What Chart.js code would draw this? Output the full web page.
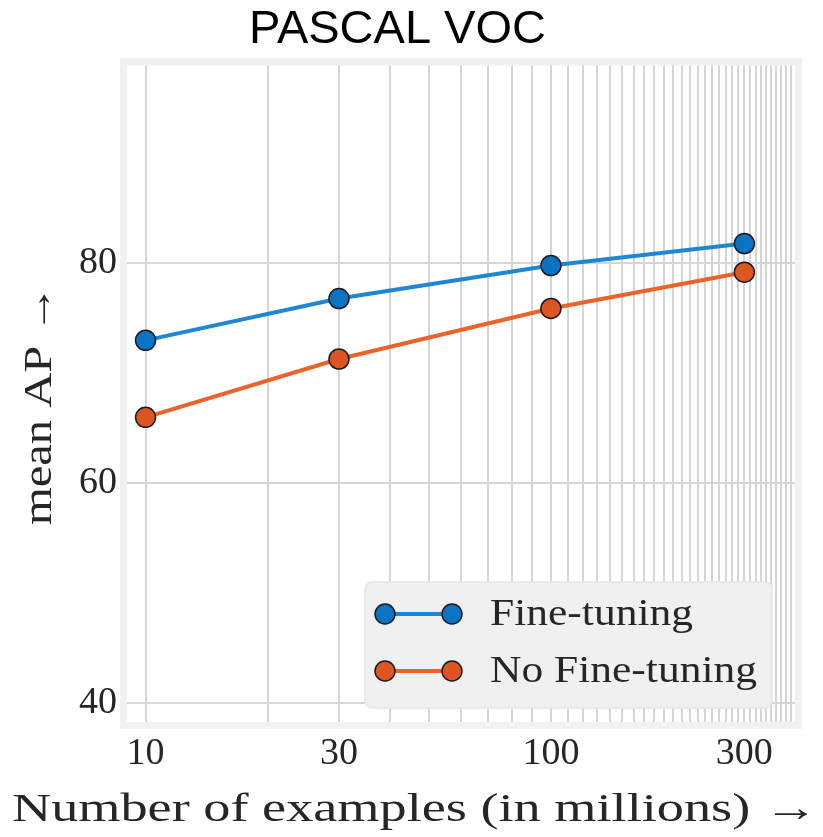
<!DOCTYPE html>
<html>
<head>
<meta charset="utf-8">
<title>PASCAL VOC</title>
<script src="https://cdn.jsdelivr.net/npm/chart.js@4/dist/chart.umd.min.js"></script>
<style>
  html, body { margin: 0; padding: 0; background: #ffffff; }
  #wrap { width: 823px; height: 837px; position: relative; }
</style>
</head>
<body>
<div id="wrap"><canvas id="chart"></canvas></div>
<script>
// Number of pre-training examples (millions), shown on a log axis
const examples = [10, 30, 100, 300];
// mean AP for each setting
const fineTuning = [73.0, 76.8, 79.8, 81.8];
const noFineTuning = [66.0, 71.3, 75.9, 79.2];
const seriesNames = ['Fine-tuning', 'No Fine-tuning'];

// Axis ticks: labelled values and the full set of vertical grid lines
const xTickLabels = [10, 30, 100, 300];
const xGridValues = [10, 20, 30, 40, 50, 60, 70, 80, 90, 100,
  110, 120, 130, 140, 150, 160, 170, 180, 190, 200,
  210, 220, 230, 240, 250, 260, 270, 280, 290, 300,
  310, 320, 330, 340, 350, 360, 370, 380, 390];
const yTickValues = [40, 60, 80];

const xTitle = 'Number of examples (in millions) \u2192';
const yTitle = 'mean AP \u2192';

const SERIF = '"Liberation Serif", "Times New Roman", "DejaVu Serif", serif';
const SANS = '"Liberation Sans", Arial, sans-serif';
const TEXT = '#262626';
const GRID = '#d5d5d5';

const BLUE_LINE = '#1f86d4', BLUE_FILL = '#0a74c4';
const ORANGE_LINE = '#e9632b', ORANGE_FILL = '#dd5520';

// Draw a string stretched horizontally so that it spans `width` pixels.
function drawStretched(ctx, text, x, y, width, align) {
  const natural = ctx.measureText(text).width;
  const sx = width / natural;
  ctx.save();
  ctx.translate(x, y);
  ctx.scale(sx, 1);
  ctx.textAlign = align;
  ctx.fillText(text, 0, 0);
  ctx.restore();
  return sx;
}

// Light grey frame round the plotting area
const framePlugin = {
  id: 'frame',
  beforeDraw(chart) {
    const { ctx, chartArea: a } = chart;
    ctx.save();
    ctx.strokeStyle = '#f1f1f1';
    ctx.lineWidth = 7;
    ctx.strokeRect(a.left - 3.5, a.top - 3.5, a.right - a.left + 7, a.bottom - a.top + 7);
    ctx.restore();
  }
};

// Axis captions in a wide serif face
const captionPlugin = {
  id: 'captions',
  afterDraw(chart) {
    const { ctx } = chart;
    ctx.save();
    ctx.fillStyle = TEXT;
    ctx.textBaseline = 'middle';
    ctx.font = '40px ' + SERIF;
    drawStretched(ctx, xTitle, 415, 810, 806, 'center');
    ctx.save();
    ctx.translate(40, 405);
    ctx.rotate(-Math.PI / 2);
    drawStretched(ctx, yTitle, 0, 0, 240, 'center');
    ctx.restore();
    ctx.restore();
  }
};

// Legend in the lower right corner: line handle with a marker at each end
const legendPlugin = {
  id: 'cornerLegend',
  afterDraw(chart) {
    const { ctx, chartArea: a } = chart;
    const sets = chart.data.datasets;
    ctx.save();
    ctx.font = '38px ' + SERIF;
    const stretch = 267 / ctx.measureText(seriesNames[1]).width;
    const textW = Math.max(...sets.map(d => ctx.measureText(d.label).width * stretch));
    const padL = 20, handle = 67, gap = 38, padR = 15, rowH = 57;
    const w = padL + handle + gap + textW + padR;
    const h = 126;
    const right = a.right - 23, bottom = a.bottom - 14;
    const left = right - w, top = bottom - h;

    ctx.fillStyle = 'rgba(239,239,239,0.97)';
    ctx.strokeStyle = '#e6e6e6';
    ctx.lineWidth = 1.5;
    ctx.beginPath();
    ctx.roundRect(left, top, w, h, 7);
    ctx.fill();
    ctx.stroke();

    sets.forEach((d, i) => {
      const cy = top + 32 + i * rowH;
      const x0 = left + padL, x1 = x0 + handle;
      ctx.strokeStyle = d.borderColor;
      ctx.lineWidth = d.borderWidth;
      ctx.beginPath();
      ctx.moveTo(x0, cy);
      ctx.lineTo(x1, cy);
      ctx.stroke();
      [x0, x1].forEach(px => {
        ctx.beginPath();
        ctx.arc(px, cy, d.pointRadius, 0, Math.PI * 2);
        ctx.fillStyle = d.pointBackgroundColor;
        ctx.fill();
        ctx.lineWidth = d.pointBorderWidth;
        ctx.strokeStyle = d.pointBorderColor;
        ctx.stroke();
      });
      ctx.fillStyle = TEXT;
      ctx.textBaseline = 'middle';
      ctx.save();
      ctx.translate(x1 + gap, cy + 1);
      ctx.scale(stretch, 1);
      ctx.textAlign = 'left';
      ctx.fillText(d.label, 0, 0);
      ctx.restore();
    });
    ctx.restore();
  }
};

const toPoints = ys => examples.map((x, i) => ({ x, y: ys[i] }));

function series(label, ys, line, fill) {
  return {
    label,
    data: toPoints(ys),
    borderColor: line,
    backgroundColor: line,
    borderWidth: 4,
    pointRadius: 10,
    pointHoverRadius: 10,
    pointBackgroundColor: fill,
    pointBorderColor: '#1b1b1b',
    pointBorderWidth: 1.5,
    tension: 0
  };
}

new Chart(document.getElementById('chart'), {
  type: 'line',
  data: {
    datasets: [
      series(seriesNames[0], fineTuning, BLUE_LINE, BLUE_FILL),
      series(seriesNames[1], noFineTuning, ORANGE_LINE, ORANGE_FILL)
    ]
  },
  options: {
    animation: false,
    responsive: true,
    maintainAspectRatio: false,
    layout: { padding: { left: 0, right: 28, top: 0, bottom: 0 } },
    plugins: {
      legend: { display: false },
      tooltip: { enabled: false },
      title: {
        display: true,
        text: 'PASCAL VOC',
        color: '#000000',
        font: { family: SANS, size: 47, weight: 'normal' },
        padding: { top: 2, bottom: 7 }
      }
    },
    scales: {
      x: {
        type: 'logarithmic',
        min: 9,
        max: 400,
        afterBuildTicks: s => { s.ticks = xGridValues.map(v => ({ value: v })); },
        afterFit: s => { s.height = 115; },
        ticks: {
          autoSkip: false,
          maxRotation: 0,
          minRotation: 0,
          padding: 9,
          color: TEXT,
          font: { family: SERIF, size: 38 },
          callback: v => (xTickLabels.includes(v) ? String(v) : '')
        },
        grid: { color: GRID, lineWidth: 2, drawTicks: false },
        border: { display: false }
      },
      y: {
        type: 'linear',
        min: 38.3,
        max: 98,
        afterBuildTicks: s => { s.ticks = yTickValues.map(v => ({ value: v })); },
        afterFit: s => { s.width = 127; },
        ticks: {
          padding: 10,
          color: TEXT,
          font: { family: SERIF, size: 38 }
        },
        grid: { color: GRID, lineWidth: 2, drawTicks: false },
        border: { display: false }
      }
    }
  },
  plugins: [framePlugin, captionPlugin, legendPlugin]
});
</script>
</body>
</html>
